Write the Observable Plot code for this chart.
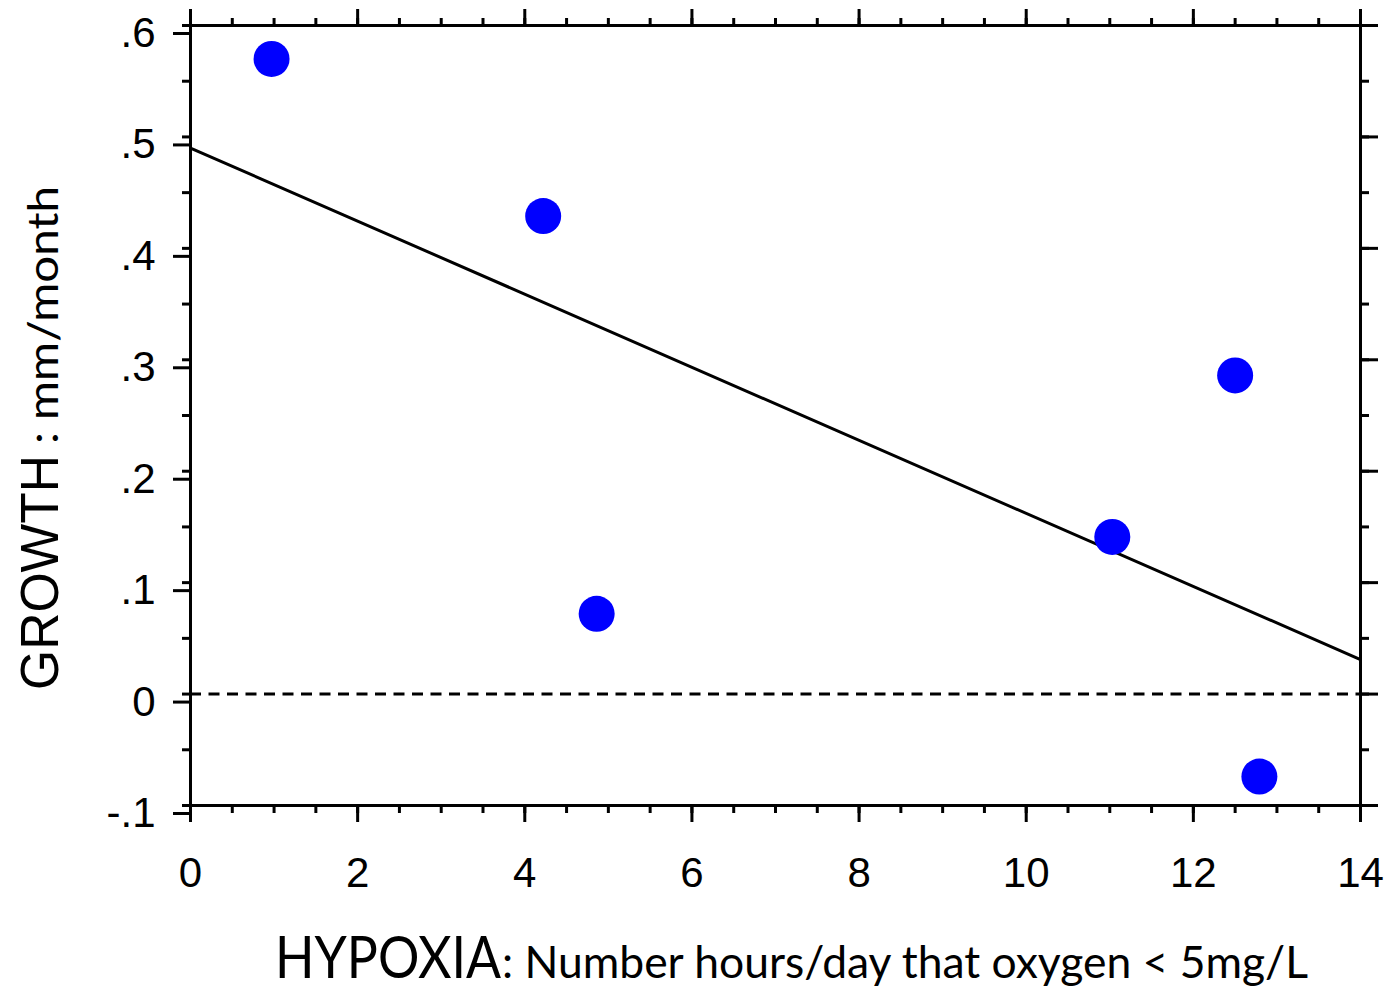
<!DOCTYPE html>
<html>
<head>
<meta charset="utf-8">
<script src="https://cdn.jsdelivr.net/npm/d3@7"></script>
<script src="https://cdn.jsdelivr.net/npm/@observablehq/plot@0.6"></script>
<style>
  html, body { margin: 0; padding: 0; background: #fff; }
  #chart svg { display: block; }
</style>
</head>
<body>
<div id="chart"></div>
<script>
// Data
const hypoxiaHours = [0.97, 4.22, 4.86, 11.03, 12.5, 12.79];
const growth = [0.57, 0.429, 0.072, 0.141, 0.286, -0.074];

// Fitted line endpoints
const fitHours = [0, 14];
const fitGrowth = [0.49, 0.031];

// Ticks
const xMajorTicks = [0, 2, 4, 6, 8, 10, 12, 14];
const xMinorTicks = d3.range(0, 14.001, 0.5);
const yMajorTicks = [-0.1, 0, 0.1, 0.2, 0.3, 0.4, 0.5, 0.6];
const yMinorTicks = d3.range(-0.1, 0.6001, 0.05);
const yTickLabels = ["-.1", "0", ".1", ".2", ".3", ".4", ".5", ".6"];

const points = hypoxiaHours.map((x, i) => ({x, y: growth[i]}));
const fitLine = fitHours.map((x, i) => ({x, y: fitGrowth[i]}));

const yLabelFormat = d => {
  const i = yMajorTicks.findIndex(t => Math.abs(t - d) < 1e-9);
  return i >= 0 ? yTickLabels[i] : "";
};
const blank = () => "";

const chart = Plot.plot({
  width: 1391,
  height: 990,
  marginLeft: 190,
  marginRight: 31,
  marginTop: 25,
  marginBottom: 185,
  x: {domain: [0, 14]},
  y: {domain: [-0.1, 0.6]},
  style: {fontFamily: "'Liberation Sans', Arial, sans-serif", fontSize: "42px", color: "black", background: "white"},
  marks: [
    Plot.ruleY([0], {stroke: "black", strokeWidth: 3, strokeDasharray: "11,7.5"}),
    Plot.line(fitLine, {x: "x", y: "y", stroke: "black", strokeWidth: 3}),
    Plot.dot(points, {x: "x", y: "y", r: 18, fill: "#0000ff", stroke: "none"}),
    Plot.frame({stroke: "black", strokeWidth: 3}),
    // bottom
    Plot.axisX({anchor: "bottom", ticks: xMinorTicks, tickSize: 8, strokeWidth: 3, tickFormat: blank, label: null}),
    Plot.axisX({anchor: "bottom", ticks: xMajorTicks, tickSize: 17, tickPadding: 35, strokeWidth: 3, tickFormat: d => String(d), label: null, fontSize: 42}),
    // top
    Plot.axisX({anchor: "top", ticks: xMinorTicks, tickSize: 8, strokeWidth: 3, tickFormat: blank, label: null}),
    Plot.axisX({anchor: "top", ticks: xMajorTicks, tickSize: 17, strokeWidth: 3, tickFormat: blank, label: null}),
    // left
    Plot.axisY({anchor: "left", ticks: yMinorTicks, tickSize: 8, strokeWidth: 3, tickFormat: blank, label: null}),
    Plot.axisY({anchor: "left", ticks: yMajorTicks, tickSize: 17, tickPadding: 18, strokeWidth: 3, tickFormat: yLabelFormat, label: null, fontSize: 42, dy: 8}),
    // right
    Plot.axisY({anchor: "right", ticks: yMinorTicks, tickSize: 8, strokeWidth: 3, tickFormat: blank, label: null}),
    Plot.axisY({anchor: "right", ticks: yMajorTicks, tickSize: 17, strokeWidth: 3, tickFormat: blank, label: null})
  ]
});

const svg = d3.select(chart);

function addText(transform, str, family, size, len) {
  svg.append("text")
    .attr("transform", transform)
    .attr("fill", "black")
    .attr("text-anchor", "start")
    .attr("font-family", family)
    .attr("font-size", size)
    .attr("textLength", len)
    .attr("lengthAdjust", "spacingAndGlyphs")
    .text(str);
}

// Y axis title
addText("translate(58,690) rotate(-90)", "GROWTH", "'Liberation Sans', Arial, sans-serif", 54, 235);
addText("translate(58,444) rotate(-90)", ": mm/month", "Lato, 'Open Sans', sans-serif", 42, 258);

// X axis title
addText("translate(275,978)", "HYPOXIA", "Lato, 'Open Sans', sans-serif", 58, 226);
addText("translate(502,978)", ": Number hours/day that oxygen < 5mg/L", "Lato, 'Open Sans', sans-serif", 44, 806);

document.getElementById("chart").appendChild(chart);
</script>
</body>
</html>
